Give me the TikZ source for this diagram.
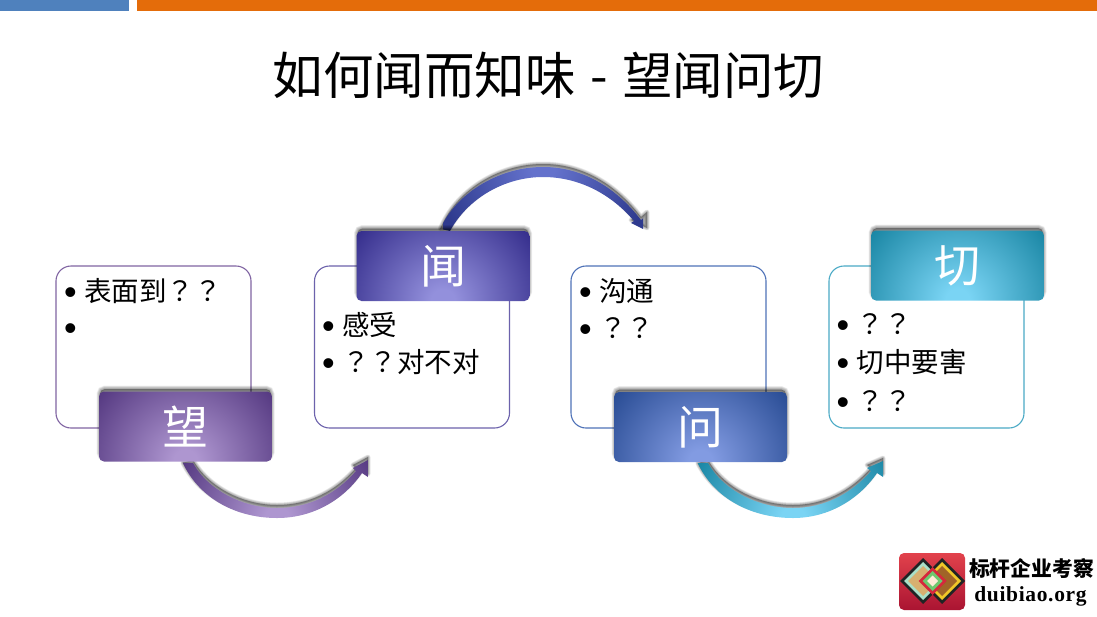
\documentclass[tikz,border=0pt]{standalone}
\usepackage{fontspec}
\setmainfont{Noto Sans CJK SC}
\newfontfamily\qfont{Noto Sans CJK JP}
\newfontfamily\dotfont{Liberation Sans}
\newfontfamily\orgfont[LetterSpace=3]{Liberation Serif}
\newcommand{\qq}{{\qfont ？？}}
\newcommand{\bul}{\makebox[20pt][l]{\raisebox{-2.5pt}[0pt][0pt]{\dotfont\fontsize{36}{36}\selectfont •}}}

\definecolor{boxa}{HTML}{8064A2}
\definecolor{boxb}{HTML}{6C62AC}
\definecolor{boxc}{HTML}{4F72B8}
\definecolor{boxd}{HTML}{4BAAC6}
\definecolor{aEdge}{HTML}{573B83}\definecolor{aMid}{HTML}{AE96D0}
\definecolor{bEdge}{HTML}{37308E}\definecolor{bMid}{HTML}{9390DC}
\definecolor{cEdge}{HTML}{2B4E96}\definecolor{cMid}{HTML}{829BE2}
\definecolor{dEdge}{HTML}{1C88A6}\definecolor{dMid}{HTML}{7AD4F4}
\definecolor{eEdge}{HTML}{2E3A8E}\definecolor{eMid}{HTML}{6472CC}

\pgfdeclareradialshading{hA}{\pgfpoint{0bp}{0bp}}{color(0bp)=(aMid);color(3bp)=(aMid);color(27bp)=(aEdge);color(100bp)=(aEdge)}
\pgfdeclareradialshading{hB}{\pgfpoint{0bp}{0bp}}{color(0bp)=(bMid);color(3bp)=(bMid);color(27bp)=(bEdge);color(100bp)=(bEdge)}
\pgfdeclareradialshading{hC}{\pgfpoint{0bp}{0bp}}{color(0bp)=(cMid);color(3bp)=(cMid);color(27bp)=(cEdge);color(100bp)=(cEdge)}
\pgfdeclareradialshading{hD}{\pgfpoint{0bp}{0bp}}{color(0bp)=(dMid);color(3bp)=(dMid);color(27bp)=(dEdge);color(100bp)=(dEdge)}
\pgfdeclareradialshading{hE}{\pgfpoint{0bp}{0bp}}{color(0bp)=(eMid);color(3bp)=(eMid);color(27bp)=(eEdge);color(100bp)=(eEdge)}

\tikzset{
  panel/.style={draw=#1,line width=1.1pt,fill=white,rounded corners=15pt,minimum width=195pt,minimum height=162pt,inner sep=0pt},
  header/.style={rounded corners=5pt,minimum width=173pt,minimum height=70pt,inner sep=0pt,text=white,font=\fontsize{46}{46}\selectfont,
    path picture={\shade[shading=#1,sharp corners] (path picture bounding box.south) ++(-100,-100) rectangle ++(200,200);}},
  item/.style={anchor=west,inner sep=0pt,text height=24.5pt,text depth=3.5pt,font=\fontsize{27.5}{30}\selectfont,text=black},
  logotext/.style={inner sep=0pt,text=black}
}
% soft shadow: a translucent fill and thin translucent strokes that sum up towards the edge
\newcommand{\softbox}[4]{\fill[black,opacity=.35,rounded corners=5pt] (#1+1,#2-2.5) rectangle (#3-1,#4-4);
  \foreach \w in {1,...,7}{\draw[draw=black,opacity=.06,rounded corners=5pt,line width=\w pt] (#1+1,#2-2.5) rectangle (#3-1,#4-4);}}
\newcommand{\softcurve}[1]{\begin{scope}[yshift=3pt]\fill[black,opacity=.35] #1;\foreach \w in {1,...,5}{\draw[draw=black,opacity=.07,line join=round,line width=\w pt] #1;}\end{scope}}

\newcommand{\arrowA}{(wang.south west)++(84,1) .. controls (200,500) and (238,518) .. (277,518) .. controls (315,518) and (345,498) .. (362,473) -- (368,477) -- (368,460) -- (353,468) -- (356,471) .. controls (335,495) and (308,508) .. (277,508) .. controls (243,508) and (208,490) .. (193,463) -- cycle}
\newcommand{\arrowB}{(wen.north west)++(84,-2) .. controls (455,195) and (497,167) .. (543,167) .. controls (585,167) and (618,190) .. (641,220) -- (647,215) -- (647,231) -- (631,223) -- (634,221) .. controls (612,195) and (580,177) .. (543,177) .. controls (505,177) and (468,198) .. (450,231) -- cycle}
\newcommand{\arrowC}{(ask.south west)++(84,1) .. controls (715,500) and (753,518) .. (793,518) .. controls (830,518) and (860,498) .. (877,473) -- (883,477) -- (883,461) -- (867,468) -- (871,471) .. controls (850,495) and (823,508) .. (793,508) .. controls (758,508) and (723,490) .. (708,463) -- cycle}

\begin{document}
\begin{tikzpicture}[x=1pt,y=-1pt]
\useasboundingbox (0,0) rectangle (1097,616);
\fill[white] (0,0) rectangle (1097,616);
\fill[fill={rgb,255:red,79;green,129;blue,189}] (0,0) rectangle (129,11);
\fill[fill={rgb,255:red,228;green,108;blue,10}] (137,0) rectangle (1097,11);

\node[inner sep=0pt,font=\fontsize{50.5}{52}\selectfont,text=black] (title) at (548.5,75) {如何闻而知味\hspace{3pt} - \hspace{3pt}望闻问切};

% panels
\node[panel=boxa] (p1) at (153.5,347) {};
\node[panel=boxb] (p2) at (412,347) {};
\node[panel=boxc] (p3) at (668.5,347) {};
\node[panel=boxd] (p4) at (926.5,347) {};

% bullets
\node[item] (t11) at (64,291) {\bul 表面到\qq};
\node[item] (t12) at (64,327) {\bul};
\node[item] (t21) at (322,325) {\bul 感受};
\node[item] (t22) at (322,362) {\bul \qq 对不对};
\node[item] (t31) at (579,291) {\bul 沟通};
\node[item] (t32) at (579,328) {\bul \qq};
\node[item] (t41) at (836.5,324) {\bul \qq};
\node[item] (t42) at (836.5,362) {\bul 切中要害};
\node[item] (t43) at (836.5,401) {\bul \qq};

% header positions
\coordinate (hw) at (185.5,426.5);
\coordinate (hm) at (443,266);
\coordinate (hq) at (700.5,427);
\coordinate (hc) at (957.5,265.5);

% anchors from which the arrows start
\node[minimum width=173pt,minimum height=70pt,inner sep=0pt] (wang) at (hw) {};
\node[minimum width=173pt,minimum height=70pt,inner sep=0pt] (wen) at (hm) {};
\node[minimum width=173pt,minimum height=70pt,inner sep=0pt] (ask) at (hq) {};

% arrows
\softcurve{\arrowA}
\begin{scope}\clip \arrowA; \shade[shading=hA] (277,518) ++(-100,-100) rectangle ++(200,200);\end{scope}
\softcurve{\arrowB}
\begin{scope}\clip \arrowB; \shade[shading=hE] (543,167) ++(-100,-100) rectangle ++(200,200);\end{scope}
\softcurve{\arrowC}
\begin{scope}\clip \arrowC; \shade[shading=hD] (793,518) ++(-100,-100) rectangle ++(200,200);\end{scope}

% headers
\softbox{99}{391.5}{272}{461.5}
\node[header=hA] (h1) at (hw) {望};
\softbox{356.5}{231}{529.5}{301}
\node[header=hB] (h2) at (hm) {闻};
\softbox{614}{392}{787}{462}
\node[header=hC] (h3) at (hq) {问};
\softbox{871}{230.5}{1044}{300.5}
\node[header=hD] (h4) at (hc) {切};

% logo
\shade[rounded corners=5pt,top color={rgb,255:red,226;green,66;blue,76},bottom color={rgb,255:red,170;green,20;blue,50}] (899,553) rectangle (965,610);
\newcommand{\gem}[4]{\fill[fill={rgb,255:red,#4}] (#1-#3,#2) -- (#1,#2-#3) -- (#1+#3,#2) -- (#1,#2+#3) -- cycle;}
\gem{942}{581}{23}{32;green,36;blue,36}
\gem{942}{581}{19}{240;green,198;blue,40}
\gem{942}{581}{15}{160;green,100;blue,40}
\gem{923}{581}{23}{32;green,36;blue,36}
\gem{923}{581}{19}{170;green,224;blue,200}
\gem{923}{581}{15}{216;green,176;blue,112}
\gem{932.5}{581}{14}{214;green,40;blue,60}
\gem{932.5}{581}{10}{110;green,200;blue,110}
\gem{932.5}{581}{5.5}{255;green,235;blue,215}
\node[logotext,font=\fontsize{20.8}{21}\selectfont\bfseries] (brand) at (1031.5,568) {标杆企业考察};
\node[logotext,font=\fontsize{21.5}{21}\selectfont\bfseries\orgfont] (site) at (1030.5,596) {duibiao.org};
\end{tikzpicture}
\end{document}
